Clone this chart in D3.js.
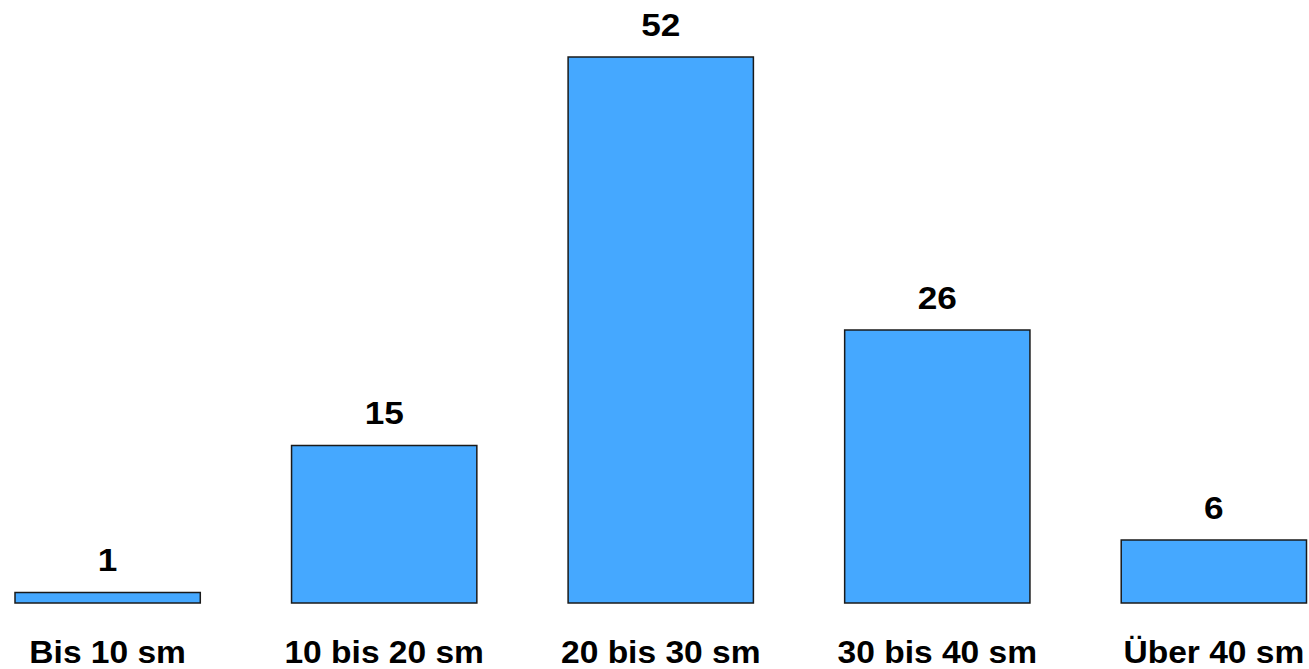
<!DOCTYPE html>
<html>
<head>
<meta charset="utf-8">
<script src="https://cdn.jsdelivr.net/npm/d3@7"></script>
<style>
  html, body { margin: 0; padding: 0; background: #fff; }
  svg { display: block; }
</style>
</head>
<body>
<script>
const categories = ["Bis 10 sm", "10 bis 20 sm", "20 bis 30 sm", "30 bis 40 sm", "Über 40 sm"];
const values = [1, 15, 52, 26, 6];

const W = 1309, H = 669;
const svg = d3.select("body").append("svg").attr("width", W).attr("height", H);

const x = d3.scaleBand().domain(categories).range([15, 1306.5]).paddingInner(0.33).paddingOuter(0);
const y = d3.scaleLinear().domain([0, 52]).range([603, 57]);

const data = categories.map((c, i) => ({ c, v: values[i] }));

svg.selectAll("rect.bar").data(data).enter().append("rect")
  .attr("class", "bar")
  .attr("x", d => x(d.c))
  .attr("y", d => y(d.v))
  .attr("width", x.bandwidth())
  .attr("height", d => y(0) - y(d.v))
  .attr("fill", "#45A8FF")
  .attr("stroke", "#1a1a1a")
  .attr("stroke-width", 1.5);

svg.selectAll("g.val").data(data).enter().append("g")
  .attr("class", "val")
  .attr("transform", d => `translate(${x(d.c) + x.bandwidth() / 2},${y(d.v) - 21.5}) scale(1.1,1)`)
  .append("text")
  .attr("text-anchor", "middle")
  .attr("font-family", "Liberation Sans, Arial, sans-serif")
  .attr("font-weight", "bold")
  .attr("font-size", "32px")
  .attr("fill", "#000")
  .text(d => d.v);

svg.selectAll("g.cat").data(data).enter().append("g")
  .attr("class", "cat")
  .attr("transform", d => `translate(${x(d.c) + x.bandwidth() / 2},663) scale(1.1,1)`)
  .append("text")
  .attr("text-anchor", "middle")
  .attr("font-family", "Liberation Sans, Arial, sans-serif")
  .attr("font-weight", "bold")
  .attr("font-size", "30.5px")
  .attr("fill", "#000")
  .text(d => d.c);
</script>
</body>
</html>
